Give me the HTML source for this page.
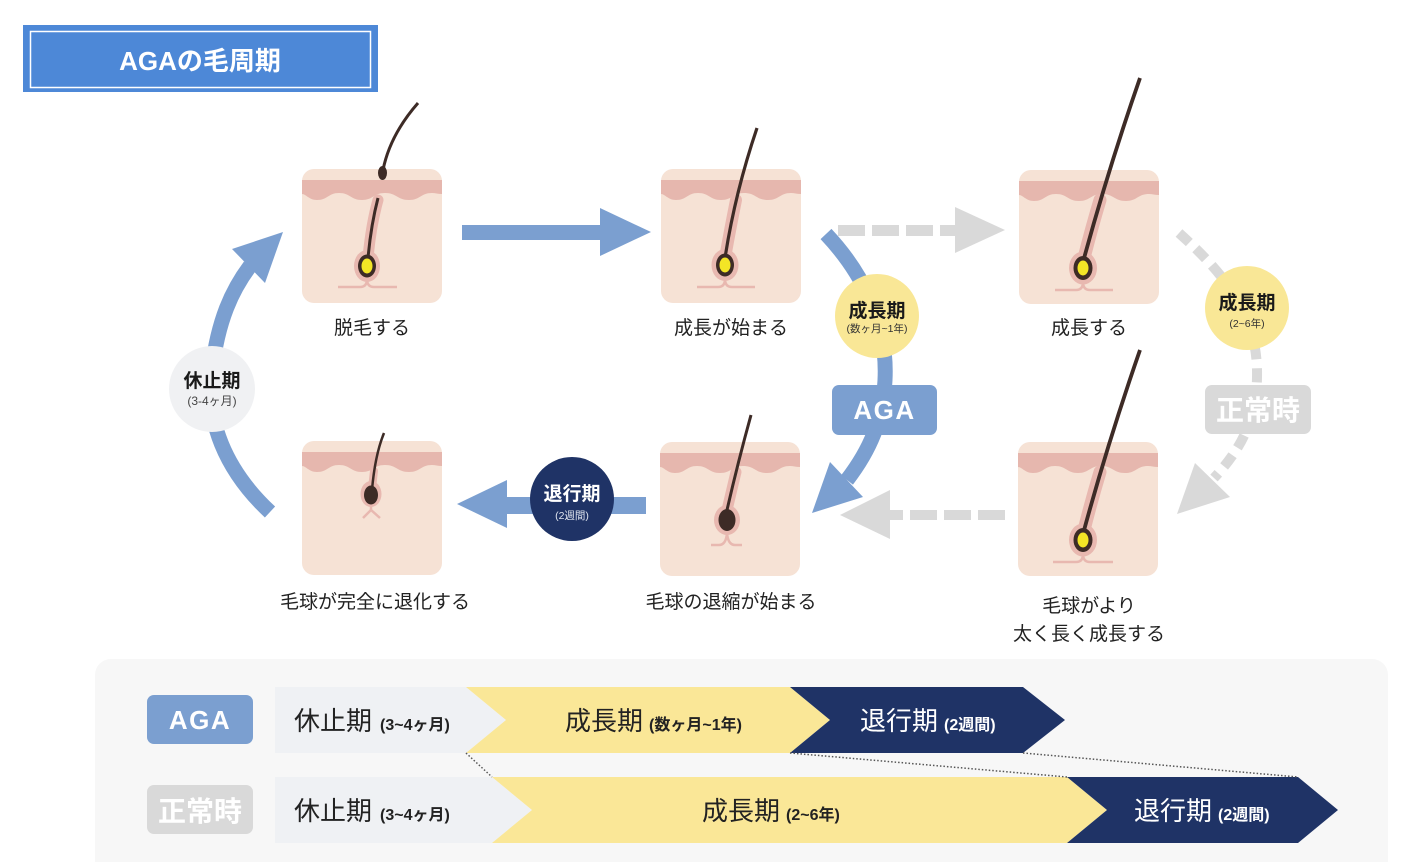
<!DOCTYPE html>
<html>
<head>
<meta charset="utf-8">
<style>
html,body{margin:0;padding:0;background:#ffffff;}
svg{display:block;font-family:"Liberation Sans","Noto Sans CJK JP",sans-serif;}
</style>
</head>
<body>
<svg width="1420" height="862" viewBox="0 0 1420 862" xmlns="http://www.w3.org/2000/svg">
<defs>
  <g id="skin">
    <rect width="140" height="134" rx="12" fill="#f6e2d5"/>
    <path d="M0 11 H140 V25 C136 25 133 24 130 24 C118.5 24 118.5 31 107 31 C95 31 95 24 83 24 C71.5 24 71.5 31 60 31 C48.5 31 48.5 24 37 24 C26 24 26 31 15 31 C7 31 4 25 0 25 Z" fill="#e6b7ae"/>
  </g>
</defs>

<!-- Title -->
<rect x="23" y="25" width="355" height="67" fill="#4d88d7"/>
<rect x="30.5" y="31.5" width="340" height="56" fill="none" stroke="#ffffff" stroke-width="1.5"/>
<text x="200" y="70" text-anchor="middle" font-size="26" font-weight="bold" fill="#ffffff">AGAの毛周期</text>

<!-- ===== Connectors ===== -->
<rect x="462" y="225" width="143" height="15" fill="#7b9fd0"/>
<polygon points="600,208 651,232 600,256" fill="#7b9fd0"/>

<g fill="#d9d9d9">
  <rect x="838" y="225" width="27" height="11"/>
  <rect x="872" y="225" width="27" height="11"/>
  <rect x="906" y="225" width="27" height="11"/>
  <rect x="940" y="225" width="16" height="11"/>
  <polygon points="955,207 1005,230 955,253"/>
</g>

<g fill="#d9d9d9">
  <rect x="886" y="510" width="17" height="10"/>
  <rect x="910" y="510" width="27" height="10"/>
  <rect x="944" y="510" width="27" height="10"/>
  <rect x="978" y="510" width="27" height="10"/>
  <polygon points="890,490 840,515 890,539"/>
</g>

<rect x="505" y="497" width="141" height="17" fill="#7b9fd0"/>
<polygon points="507,480 457,504 507,528" fill="#7b9fd0"/>

<path d="M826 234 C860 270 888 320 885 380 C883 420 870 450 847 480" fill="none" stroke="#7b9fd0" stroke-width="15"/>
<polygon points="812,513 830,462 863,497" fill="#7b9fd0"/>

<path d="M1179 233 C1220 270 1256 310 1257 370 C1258 420 1240 450 1214 478" fill="none" stroke="#d9d9d9" stroke-width="10" stroke-dasharray="14 9"/>
<polygon points="1177,514 1195,463 1230,497" fill="#d9d9d9"/>

<path d="M270 512 C225 470 205 420 212 370 C218 320 232 290 250 266" fill="none" stroke="#7b9fd0" stroke-width="15"/>
<polygon points="283,232 232,249 265,283" fill="#7b9fd0"/>

<!-- ===== Panels ===== -->
<use href="#skin" x="302" y="169"/>
<path d="M378 200 Q371 225 368 258" fill="none" stroke="#e8b8b0" stroke-width="11" stroke-linecap="round"/>
<ellipse cx="367" cy="266" rx="13" ry="16" fill="#e8b8b0"/>
<path d="M338 287 H360 Q367 287 367 279 Q367 287 374 287 H397" fill="none" stroke="#e8b8b0" stroke-width="2.5"/>
<path d="M378 198 Q371 225 368 258" fill="none" stroke="#3d2b26" stroke-width="3"/>
<ellipse cx="367" cy="266" rx="9" ry="11.5" fill="#3d2b26"/>
<ellipse cx="367" cy="266" rx="5.5" ry="7.5" fill="#f3e526"/>
<path d="M418 103 Q390 135 383 170" fill="none" stroke="#3d2b26" stroke-width="3"/>
<ellipse cx="382.5" cy="173" rx="4.5" ry="7" fill="#3d2b26"/>

<use href="#skin" x="661" y="169"/>
<path d="M736 200 Q730 230 725 258" fill="none" stroke="#e8b8b0" stroke-width="12" stroke-linecap="round"/>
<ellipse cx="725" cy="265" rx="13.5" ry="16" fill="#e8b8b0"/>
<path d="M697 287 H718 Q725 287 725 279 Q725 287 732 287 H755" fill="none" stroke="#e8b8b0" stroke-width="2.5"/>
<path d="M757 128 Q735 193 725 258" fill="none" stroke="#3d2b26" stroke-width="3.2"/>
<ellipse cx="725" cy="265" rx="9" ry="11.5" fill="#3d2b26"/>
<ellipse cx="725" cy="265" rx="5.5" ry="7.5" fill="#f3e526"/>

<use href="#skin" x="1019" y="170"/>
<path d="M1100 200 Q1091 230 1083 262" fill="none" stroke="#e8b8b0" stroke-width="13" stroke-linecap="round"/>
<ellipse cx="1083" cy="268" rx="14" ry="16.5" fill="#e8b8b0"/>
<path d="M1055 290 H1076 Q1083 290 1083 282 Q1083 290 1090 290 H1113" fill="none" stroke="#e8b8b0" stroke-width="2.5"/>
<path d="M1140 78 Q1108 170 1083 262" fill="none" stroke="#3d2b26" stroke-width="3.8"/>
<ellipse cx="1083" cy="268" rx="9.5" ry="12" fill="#3d2b26"/>
<ellipse cx="1083" cy="268" rx="5.5" ry="7.5" fill="#f3e526"/>

<use href="#skin" x="1018" y="442"/>
<path d="M1100 472 Q1091 502 1083 534" fill="none" stroke="#e8b8b0" stroke-width="13" stroke-linecap="round"/>
<ellipse cx="1083" cy="540" rx="14" ry="16.5" fill="#e8b8b0"/>
<path d="M1053 562 H1076 Q1083 562 1083 554 Q1083 562 1090 562 H1113" fill="none" stroke="#e8b8b0" stroke-width="2.5"/>
<path d="M1140 350 Q1108 442 1083 534" fill="none" stroke="#3d2b26" stroke-width="3.8"/>
<ellipse cx="1083" cy="540" rx="9.5" ry="12" fill="#3d2b26"/>
<ellipse cx="1083" cy="540" rx="5.5" ry="7.5" fill="#f3e526"/>

<use href="#skin" x="660" y="442"/>
<path d="M736 472 L727 510" fill="none" stroke="#e8b8b0" stroke-width="11" stroke-linecap="round"/>
<ellipse cx="727" cy="520" rx="13" ry="15" fill="#e8b8b0"/>
<path d="M711 545 H719 Q726 545 727 533 Q728 545 735 545 H742" fill="none" stroke="#e8b8b0" stroke-width="2.5"/>
<path d="M751 415 Q738 462 727 510" fill="none" stroke="#3d2b26" stroke-width="3"/>
<ellipse cx="727" cy="520" rx="8.5" ry="11" fill="#3d2b26"/>

<use href="#skin" x="302" y="441"/>
<path d="M374 471 L372 488" fill="none" stroke="#e8b8b0" stroke-width="8" stroke-linecap="round"/>
<ellipse cx="371" cy="494" rx="10.5" ry="13" fill="#e8b8b0"/>
<path d="M363 518 L371 510 L380 518 M371 503 V510" fill="none" stroke="#e8b8b0" stroke-width="2.5"/>
<path d="M384 433 Q375 455 372 490" fill="none" stroke="#3d2b26" stroke-width="2.5"/>
<ellipse cx="371" cy="495" rx="7" ry="9.5" fill="#3d2b26"/>

<!-- ===== Badges ===== -->
<circle cx="877" cy="316" r="42" fill="#f9e796"/>
<text x="877" y="317" text-anchor="middle" font-size="19" font-weight="bold" fill="#1a1a1a">成長期</text>
<text x="877" y="332" text-anchor="middle" font-size="10.5" fill="#333">(数ヶ月~1年)</text>

<circle cx="1247" cy="308" r="42" fill="#f9e796"/>
<text x="1247" y="309" text-anchor="middle" font-size="19" font-weight="bold" fill="#1a1a1a">成長期</text>
<text x="1247" y="327" text-anchor="middle" font-size="10.5" fill="#333">(2~6年)</text>

<circle cx="212" cy="389" r="43" fill="#f0f1f3"/>
<text x="212" y="387" text-anchor="middle" font-size="19" font-weight="bold" fill="#1a1a1a">休止期</text>
<text x="212" y="405" text-anchor="middle" font-size="12" fill="#444">(3-4ヶ月)</text>

<circle cx="572" cy="499" r="42" fill="#1f3366"/>
<text x="572" y="500" text-anchor="middle" font-size="19" font-weight="bold" fill="#ffffff">退行期</text>
<text x="572" y="519" text-anchor="middle" font-size="10.5" fill="#dfe4ee">(2週間)</text>

<rect x="832" y="385" width="105" height="50" rx="7" fill="#7b9fd0"/>
<text x="884.5" y="419" text-anchor="middle" font-size="26" font-weight="bold" fill="#ffffff" letter-spacing="1.5">AGA</text>

<rect x="1205" y="385" width="106" height="49" rx="7" fill="#d9d9d9"/>
<text x="1258" y="420" text-anchor="middle" font-size="28" font-weight="bold" fill="#ffffff">正常時</text>

<!-- ===== Panel labels ===== -->
<g font-size="19" fill="#222" text-anchor="middle">
  <text x="372" y="334">脱毛する</text>
  <text x="731" y="334">成長が始まる</text>
  <text x="1089" y="334">成長する</text>
  <text x="375" y="608">毛球が完全に退化する</text>
  <text x="731" y="608">毛球の退縮が始まる</text>
  <text x="1089" y="612">毛球がより</text>
  <text x="1089" y="640">太く長く成長する</text>
</g>

<!-- ===== Bottom timeline ===== -->
<rect x="95" y="659" width="1293" height="240" rx="16" fill="#f7f7f7"/>

<rect x="147" y="695" width="106" height="49" rx="7" fill="#7b9fd0"/>
<text x="200" y="729" text-anchor="middle" font-size="26" font-weight="bold" fill="#ffffff" letter-spacing="1.5">AGA</text>
<rect x="147" y="785" width="106" height="49" rx="7" fill="#d9d9d9"/>
<text x="200" y="821" text-anchor="middle" font-size="28" font-weight="bold" fill="#ffffff">正常時</text>

<polygon points="275,687 466,687 506,720 466,753 275,753" fill="#eff1f4"/>
<polygon points="466,687 790,687 830,720 790,753 466,753 506,720" fill="#fae797"/>
<polygon points="790,687 1023,687 1065,720 1023,753 790,753 830,720" fill="#1f3366"/>
<polygon points="275,777 492,777 532,810 492,843 275,843" fill="#eff1f4"/>
<polygon points="492,777 1067,777 1107,810 1067,843 492,843 532,810" fill="#fae797"/>
<polygon points="1067,777 1298,777 1338,810 1298,843 1067,843 1107,810" fill="#1f3366"/>

<g stroke="#555" stroke-width="1.5" stroke-dasharray="1.5 2" fill="none">
  <line x1="466" y1="753" x2="492" y2="777"/>
  <line x1="790" y1="753" x2="1067" y2="777"/>
  <line x1="1023" y1="753" x2="1298" y2="777"/>
</g>

<g font-size="26" fill="#222">
  <text x="294" y="730">休止期<tspan font-size="16" font-weight="bold" dx="8">(3~4ヶ月)</tspan></text>
  <text x="565" y="730">成長期<tspan font-size="16" font-weight="bold" dx="6">(数ヶ月~1年)</tspan></text>
  <text x="860" y="730" fill="#ffffff">退行期<tspan font-size="16" font-weight="bold" dx="6">(2週間)</tspan></text>
  <text x="294" y="820">休止期<tspan font-size="16" font-weight="bold" dx="8">(3~4ヶ月)</tspan></text>
  <text x="702" y="820">成長期<tspan font-size="16" font-weight="bold" dx="6">(2~6年)</tspan></text>
  <text x="1134" y="820" fill="#ffffff">退行期<tspan font-size="16" font-weight="bold" dx="6">(2週間)</tspan></text>
</g>
</svg>
</body>
</html>
